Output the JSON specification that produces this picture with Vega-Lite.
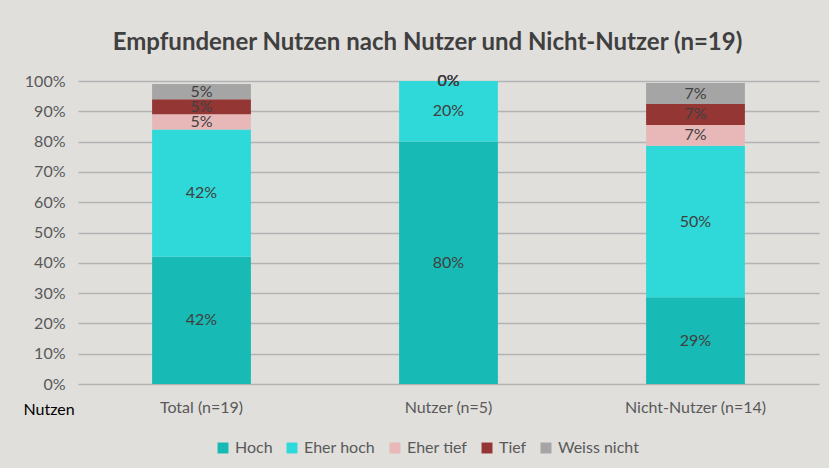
{
  "$schema": "https://vega.github.io/schema/vega-lite/v6.json",
  "width": 741,
  "height": 303,
  "autosize": {"type": "none"},
  "padding": {"left": 78, "top": 81, "right": 10, "bottom": 84},
  "background": "#e0dfdc",
  "title": {
    "text": "Empfundener Nutzen nach Nutzer und Nicht-Nutzer (n=19)",
    "font": "Lato",
    "fontSize": 24,
    "fontWeight": "bold",
    "color": "#404040",
    "anchor": "middle",
    "dx": -21,
    "offset": 18
  },
  "config": {
    "view": {"stroke": null},
    "font": "Lato"
  },
  "data": {
    "values": [
      {"gruppe": "Total (n=19)", "kategorie": "Hoch", "ord": 1, "anteil": 0.42},
      {"gruppe": "Total (n=19)", "kategorie": "Eher hoch", "ord": 2, "anteil": 0.42},
      {"gruppe": "Total (n=19)", "kategorie": "Eher tief", "ord": 3, "anteil": 0.05},
      {"gruppe": "Total (n=19)", "kategorie": "Tief", "ord": 4, "anteil": 0.05},
      {"gruppe": "Total (n=19)", "kategorie": "Weiss nicht", "ord": 5, "anteil": 0.05},
      {"gruppe": "Nutzer (n=5)", "kategorie": "Hoch", "ord": 1, "anteil": 0.80},
      {"gruppe": "Nutzer (n=5)", "kategorie": "Eher hoch", "ord": 2, "anteil": 0.20},
      {"gruppe": "Nutzer (n=5)", "kategorie": "Eher tief", "ord": 3, "anteil": 0.0},
      {"gruppe": "Nutzer (n=5)", "kategorie": "Tief", "ord": 4, "anteil": 0.0},
      {"gruppe": "Nutzer (n=5)", "kategorie": "Weiss nicht", "ord": 5, "anteil": 0.0},
      {"gruppe": "Nicht-Nutzer (n=14)", "kategorie": "Hoch", "ord": 1, "anteil": 0.286},
      {"gruppe": "Nicht-Nutzer (n=14)", "kategorie": "Eher hoch", "ord": 2, "anteil": 0.50},
      {"gruppe": "Nicht-Nutzer (n=14)", "kategorie": "Eher tief", "ord": 3, "anteil": 0.069},
      {"gruppe": "Nicht-Nutzer (n=14)", "kategorie": "Tief", "ord": 4, "anteil": 0.069},
      {"gruppe": "Nicht-Nutzer (n=14)", "kategorie": "Weiss nicht", "ord": 5, "anteil": 0.069}
    ]
  },
  "transform": [
    {"stack": "anteil", "groupby": ["gruppe"], "sort": [{"field": "ord"}], "as": ["y0", "y1"]},
    {"calculate": "(datum.y0 + datum.y1) / 2", "as": "ymid"}
  ],
  "encoding": {
    "x": {
      "field": "gruppe",
      "type": "nominal",
      "sort": ["Total (n=19)", "Nutzer (n=5)", "Nicht-Nutzer (n=14)"],
      "scale": {"paddingInner": 0.6, "paddingOuter": 0.3},
      "axis": {
        "title": "Nutzen",
        "titleFont": "Lato",
        "titleFontSize": 16,
        "titleFontWeight": "normal",
        "titleColor": "#000000",
        "titleAngle": 0,
        "titleAlign": "left",
        "titleBaseline": "middle",
        "titleX": -55,
        "titleY": 25,
        "labelAngle": 0,
        "labelFontSize": 16,
        "labelColor": "#595959",
        "labelPadding": 15,
        "ticks": false,
        "domain": false
      }
    }
  },
  "layer": [
    {
      "mark": {"type": "bar"},
      "encoding": {
        "y": {
          "field": "y0",
          "type": "quantitative",
          "scale": {"domain": [0, 1]},
          "axis": {
            "title": null,
            "format": ".0%",
            "values": [0, 0.1, 0.2, 0.3, 0.4, 0.5, 0.6, 0.7, 0.8, 0.9, 1.0],
            "labelOverlap": false,
            "labelFontSize": 16,
            "labelColor": "#595959",
            "labelPadding": 13,
            "ticks": false,
            "domain": false,
            "grid": true,
            "gridColor": "#b3b3b3",
            "gridWidth": 1.5
          }
        },
        "y2": {"field": "y1"},
        "color": {
          "field": "kategorie",
          "type": "nominal",
          "sort": ["Hoch", "Eher hoch", "Eher tief", "Tief", "Weiss nicht"],
          "scale": {
            "domain": ["Hoch", "Eher hoch", "Eher tief", "Tief", "Weiss nicht"],
            "range": ["#17bab5", "#2fd9d9", "#e8b7b7", "#943634", "#a5a5a5"]
          },
          "legend": {
            "title": null,
            "orient": "none",
            "legendX": 137,
            "legendY": 359,
            "direction": "horizontal",
            "symbolType": "square",
            "symbolSize": 120,
            "symbolStrokeWidth": 0,
            "labelFontSize": 16,
            "labelColor": "#595959",
            "columnPadding": 11
          }
        }
      }
    },
    {
      "mark": {"type": "text", "fontSize": 16, "color": "#404040", "baseline": "middle"},
      "encoding": {
        "y": {
          "field": "ymid",
          "type": "quantitative",
          "axis": {
            "title": null,
            "format": ".0%",
            "values": [0, 0.1, 0.2, 0.3, 0.4, 0.5, 0.6, 0.7, 0.8, 0.9, 1.0],
            "labelOverlap": false,
            "labelFontSize": 16,
            "labelColor": "#595959",
            "labelPadding": 13,
            "ticks": false,
            "domain": false,
            "grid": true,
            "gridColor": "#b3b3b3",
            "gridWidth": 1.5
          }
        },
        "text": {"field": "anteil", "type": "quantitative", "format": ".0%"}
      }
    }
  ]
}
